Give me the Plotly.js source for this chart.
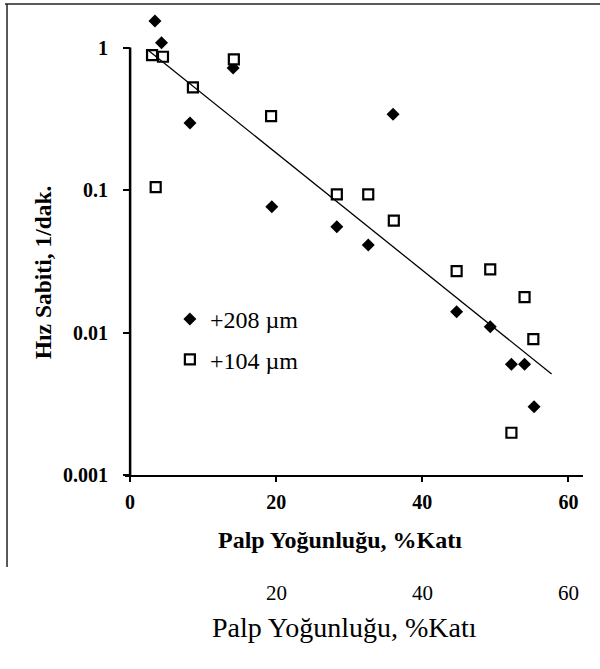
<!DOCTYPE html>
<html>
<head>
<meta charset="utf-8">
<script src="https://cdn.plot.ly/plotly-3.0.1.min.js"></script>
<style>html,body{margin:0;padding:0;background:#fff;}#chart{width:600px;height:669px;}</style>
</head>
<body>
<div id="chart"></div>
<script>
// +208 µm (filled diamonds)
const x208 = [3.4, 4.3, 8.2, 14.1, 19.4, 28.3, 32.6, 36.0, 44.7, 49.3, 52.2, 54.0, 55.3];
const y208 = [1.54, 1.08, 0.296, 0.718, 0.0764, 0.0552, 0.0411, 0.340, 0.0140, 0.0110, 0.00598, 0.00598, 0.00301];
// +104 µm (open squares)
const x104 = [3.0, 4.5, 8.6, 14.2, 19.3, 3.5, 28.3, 32.6, 36.1, 44.7, 49.3, 54.0, 55.2, 52.2];
const y104 = [0.886, 0.863, 0.526, 0.826, 0.330, 0.105, 0.0933, 0.0933, 0.061, 0.027, 0.0278, 0.0177, 0.0090, 0.00198];
// fitted trend line end points
const trendX = [2.3, 57.7];
const trendY = [0.975, 0.00512];
// tick labels
const xTicks = [0, 20, 40, 60];
const yTickVals = [1, 0.1, 0.01, 0.001];
const yTickText = ['1', '0.1', '0.01', '0.001'];
const captionTicks = [20, 40, 60];
const seriesNames = ['+208 µm', '+104 µm'];

const serif = 'Liberation Serif, Times New Roman, serif';
const yLogRange = [-3, 0.25];
const axisTop = (0 - yLogRange[0]) / (yLogRange[1] - yLogRange[0]); // paper y of value 1

const traces = [
  {x: x208, y: y208, type: 'scatter', mode: 'markers', name: seriesNames[0],
   legendgroup: 'a', cliponaxis: false,
   marker: {symbol: 'diamond', size: 10, color: '#000'}},
  {x: x104, y: y104, type: 'scatter', mode: 'markers', name: seriesNames[1],
   legendgroup: 'b', cliponaxis: false,
   marker: {symbol: 'square', size: 10, color: '#fff', line: {color: '#000', width: 2.2}}},
  {x: trendX, y: trendY, type: 'scatter', mode: 'lines', showlegend: false,
   cliponaxis: false, line: {color: '#000', width: 1.3}}
];

const annotations = [
  {text: '<b>Hız Sabiti, 1/dak.</b>', xref: 'paper', yref: 'paper', x: -0.179, y: 0.438,
   xanchor: 'center', yanchor: 'middle',
   textangle: -90, showarrow: false, font: {family: serif, size: 23.5, color: '#000'}},
  {text: '<b>Palp Yoğunluğu, %Katı</b>', xref: 'paper', yref: 'paper', x: 0.469, y: -0.1404,
   xanchor: 'center', yanchor: 'middle',
   showarrow: false, font: {family: serif, size: 24, color: '#000'}},
  {text: 'Palp Yoğunluğu, %Katı', xref: 'paper', yref: 'paper', x: 0.48, y: -0.3304,
   xanchor: 'center', yanchor: 'middle',
   showarrow: false, font: {family: serif, size: 28, color: '#000'}}
];
captionTicks.forEach(v => annotations.push({
  text: String(v), xref: 'x', yref: 'paper', x: v, y: -0.2548, showarrow: false,
  xanchor: 'center', yanchor: 'middle',
  font: {family: serif, size: 21, color: '#000'}
}));

const layout = {
  width: 600, height: 669,
  margin: {l: 125, r: 17, t: 11.9, b: 194},
  paper_bgcolor: '#fff', plot_bgcolor: '#fff',
  showlegend: true,
  legend: {x: 0.098, y: 0.3844, xanchor: 'left', yanchor: 'top', bgcolor: 'rgba(0,0,0,0)',
           tracegroupgap: 6, font: {family: serif, size: 24, color: '#000'}},
  xaxis: {range: [-0.7, 62], tickvals: xTicks, ticktext: xTicks.map(String),
          showgrid: false, zeroline: false, showline: true, linecolor: '#000', linewidth: 2,
          ticks: 'outside', ticklen: 5, tickwidth: 2, tickcolor: '#000', ticklabelstandoff: 3,
          tickfont: {family: serif, size: 20, color: '#000', weight: 'bold'}},
  yaxis: {type: 'log', range: yLogRange, tickvals: yTickVals, ticktext: yTickText,
          anchor: 'free', position: 0.0109,
          showgrid: false, zeroline: false, showline: false,
          ticks: 'outside', ticklen: 7, tickwidth: 2, tickcolor: '#000', ticklabelstandoff: 11,
          tickfont: {family: serif, size: 20, color: '#000', weight: 'bold'}},
  annotations: annotations,
  shapes: [
    {type: 'line', xref: 'x', yref: 'paper', x0: 0, x1: 0, y0: 0, y1: axisTop,
     line: {color: '#000', width: 2.5}},
    {type: 'line', xref: 'paper', yref: 'paper', x0: -0.262, x1: 1.04, y0: 1.0171, y1: 1.0171,
     line: {color: '#222', width: 1.5}},
    {type: 'line', xref: 'paper', yref: 'paper', x0: -0.2576, x1: -0.2576, y0: 1.0171, y1: -0.1987,
     line: {color: '#222', width: 1.5}}
  ]
};

Plotly.newPlot('chart', traces, layout, {displayModeBar: false, staticPlot: true});
</script>
</body>
</html>
